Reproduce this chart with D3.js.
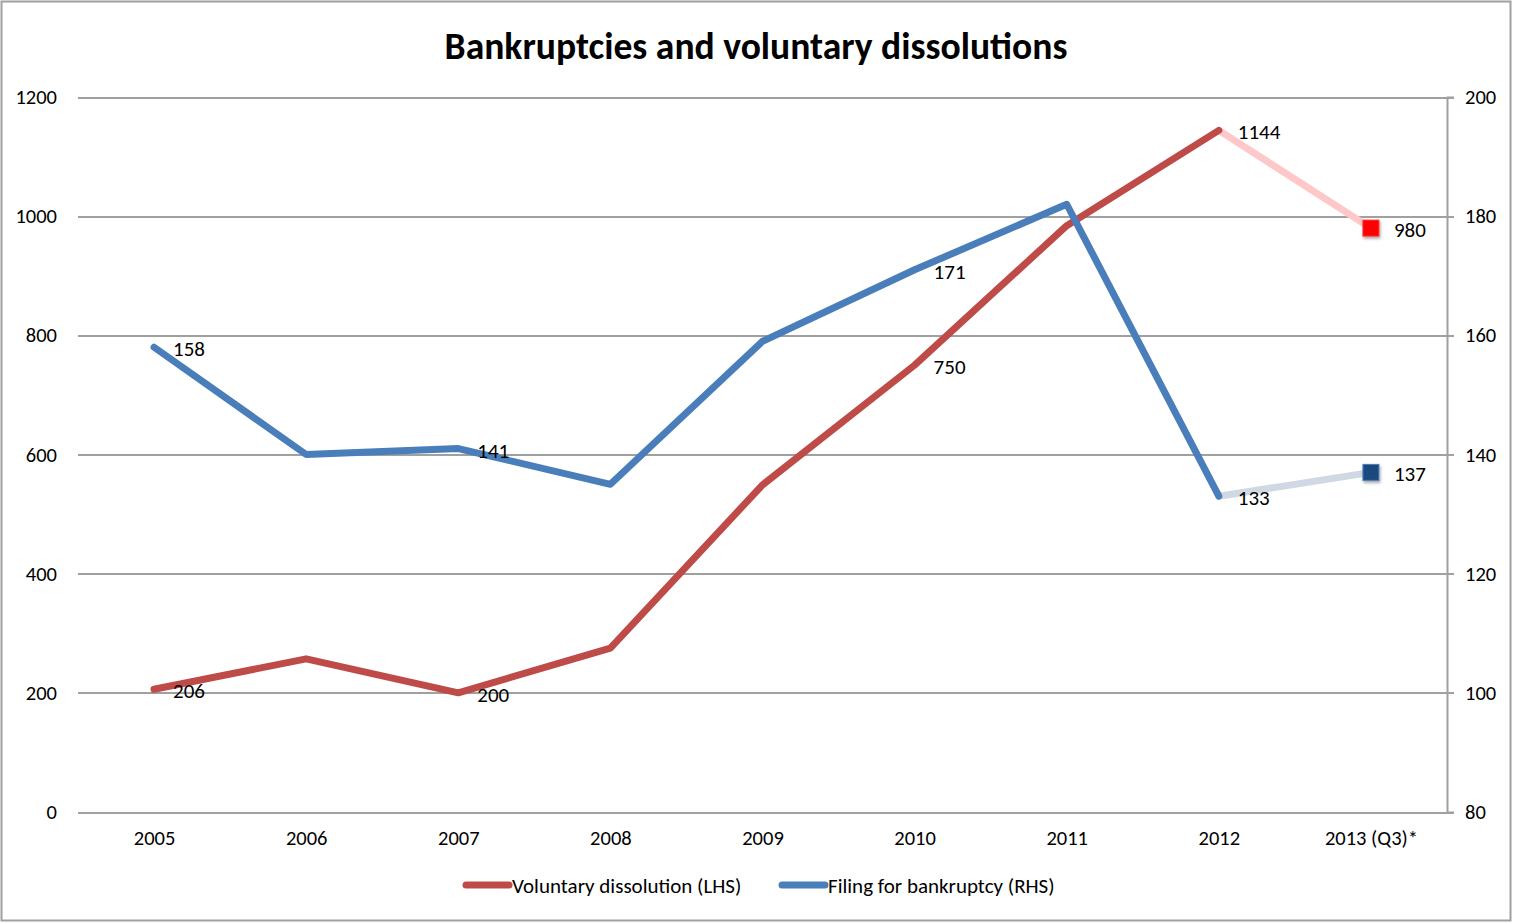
<!DOCTYPE html>
<meta charset="utf-8">
<style>
body { margin: 0; background: #fff; }
svg, svg text { font-family: Carlito, Lato, "Open Sans", sans-serif; }
.grid line { stroke: #a0a0a0; stroke-width: 2px; shape-rendering: crispEdges; }
.tick text { font-size: 20.5px; fill: #000; font-family: Carlito, Lato, sans-serif; }
.lbl { font-size: 21px; fill: #000; }
</style>
<svg width="1513" height="924"></svg>
<script src="https://d3js.org/d3.v7.min.js"></script>
<script>

var years = ["2005", "2006", "2007", "2008", "2009", "2010", "2011", "2012", "2013 (Q3)*"];
var dissolution = [206, 257, 200, 275, 549, 750, 984, 1144, 980];
var bankruptcy = [158, 140, 141, 135, 159, 171, 182, 133, 137];
var leftTicks = [0, 200, 400, 600, 800, 1000, 1200];
var rightTicks = [80, 100, 120, 140, 160, 180, 200];
var labelled = [0, 2, 5, 7, 8];

var svg = d3.select("svg"),
    plotLeft = 78, plotRight = 1447, plotTop = 97, plotBottom = 812;

var defs = svg.append("defs");
var f = defs.append("filter").attr("id", "shadow")
  .attr("x", "-50%").attr("y", "-50%").attr("width", "200%").attr("height", "200%");
f.append("feDropShadow").attr("dx", 1).attr("dy", 2).attr("stdDeviation", 1.5)
  .attr("flood-color", "#000").attr("flood-opacity", 0.35);

// outer border
svg.append("rect")
  .attr("x", 1.5).attr("y", 1.5).attr("width", 1509).attr("height", 919)
  .attr("fill", "#fff").attr("stroke", "#a0a0a0").attr("stroke-width", 2);

var x = d3.scalePoint().domain(years).range([plotLeft, plotRight]).padding(0.5);
var yL = d3.scaleLinear().domain([0, 1200]).range([plotBottom, plotTop]);
var yR = d3.scaleLinear().domain([80, 200]).range([plotBottom, plotTop]);

// gridlines + left labels
var gl = svg.append("g").attr("class", "grid")
  .attr("transform", "translate(" + plotLeft + ",0)")
  .call(d3.axisLeft(yL).tickValues(leftTicks).tickFormat(d3.format("d"))
    .tickSize(-(plotRight - plotLeft)).tickPadding(21));
gl.select(".domain").remove();

// right axis
var gr = svg.append("g").attr("class", "grid")
  .attr("transform", "translate(" + plotRight + ",0)")
  .call(d3.axisRight(yR).tickValues(rightTicks).tickSize(7).tickPadding(11));
gr.select(".domain").attr("stroke", "#a0a0a0").attr("stroke-width", 2);

// x labels
var gx = svg.append("g")
  .attr("transform", "translate(0," + plotBottom + ")")
  .call(d3.axisBottom(x).tickSize(0).tickPadding(18));
gx.select(".domain").remove();

function drawSeries(vals, scale, main, pale, marker, edge) {
  var pts = vals.map(function(v, i) { return [x(years[i]), scale(v)]; });
  var n = pts.length;
  svg.append("path")
    .attr("d", d3.line()(pts.slice(n - 2)))
    .attr("fill", "none").attr("stroke", pale).attr("stroke-width", 7)
    .attr("stroke-linecap", "round");
  svg.append("path")
    .attr("d", d3.line()(pts.slice(0, n - 1)))
    .attr("fill", "none").attr("stroke", main).attr("stroke-width", 7)
    .attr("stroke-linecap", "round").attr("stroke-linejoin", "round");
  svg.append("rect")
    .attr("x", pts[n - 1][0] - 8).attr("y", pts[n - 1][1] - 8)
    .attr("width", 16).attr("height", 16)
    .attr("fill", marker).attr("stroke", edge).attr("stroke-width", 1)
    .attr("filter", "url(#shadow)");
  svg.selectAll(null).data(labelled).enter().append("text")
    .attr("class", "lbl")
    .attr("x", function(i) { return pts[i][0] + (i == n - 1 ? 23 : 19); })
    .attr("y", function(i) { return pts[i][1] + 9; })
    .text(function(i) { return vals[i]; });
}

// red first so the blue line sits on top where they cross
drawSeries(dissolution, yL, "#be4b48", "#ffc8c8", "#ff0000", "#ff3030");
drawSeries(bankruptcy, yR, "#4a7ebb", "#d0d8e4", "#1f497d", "#4a7ebb");

// title
svg.append("text")
  .attr("x", 756).attr("y", 59)
  .attr("text-anchor", "middle")
  .style("font-size", "37.6px").style("font-weight", "bold")
  .text("Bankruptcies and voluntary dissolutions");

// legend
var legend = [
  { name: "Voluntary dissolution (LHS)", color: "#be4b48", x: 466 },
  { name: "Filing for bankruptcy (RHS)", color: "#4a7ebb", x: 782 }
];
var lg = svg.selectAll(".legend").data(legend).enter().append("g")
  .attr("transform", function(d) { return "translate(" + d.x + ",885)"; });
lg.append("line").attr("x1", 0).attr("x2", 43)
  .attr("stroke", function(d) { return d.color; })
  .attr("stroke-width", 7).attr("stroke-linecap", "round");
lg.append("text").attr("class", "lbl").attr("x", 46).attr("y", 8)
  .text(function(d) { return d.name; });

</script>
